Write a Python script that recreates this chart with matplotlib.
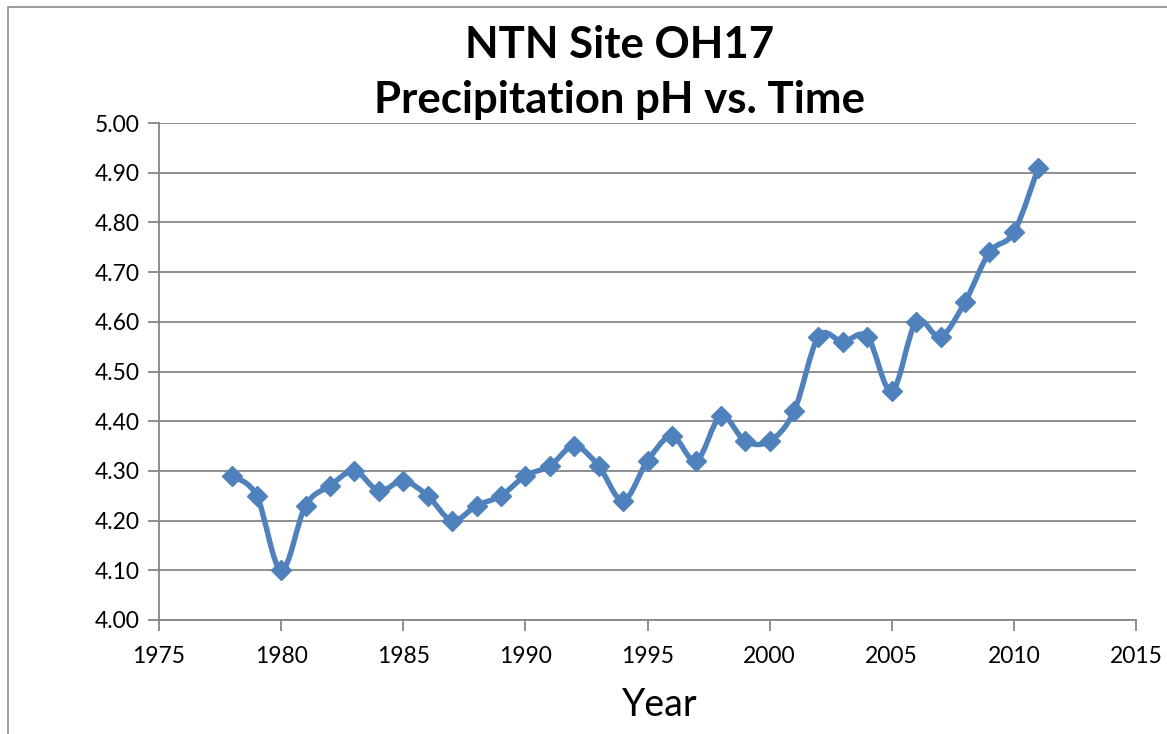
import numpy as np
import matplotlib
matplotlib.use('Agg')
import matplotlib.pyplot as plt
from matplotlib.path import Path
from matplotlib.patches import PathPatch, Rectangle

# data
years = [1978, 1979, 1980, 1981, 1982, 1983, 1984, 1985, 1986, 1987,
         1988, 1989, 1990, 1991, 1992, 1993, 1994, 1995, 1996, 1997,
         1998, 1999, 2000, 2001, 2002, 2003, 2004, 2005, 2006, 2007,
         2008, 2009, 2010, 2011]
ph = [4.29, 4.25, 4.10, 4.23, 4.27, 4.30, 4.26, 4.28, 4.25, 4.20,
      4.23, 4.25, 4.29, 4.31, 4.35, 4.31, 4.24, 4.32, 4.37, 4.32,
      4.41, 4.36, 4.36, 4.42, 4.57, 4.56, 4.57, 4.46, 4.60, 4.57,
      4.64, 4.74, 4.78, 4.91]
x_ticks = [1975, 1980, 1985, 1990, 1995, 2000, 2005, 2010, 2015]
y_ticks = [4.00, 4.10, 4.20, 4.30, 4.40, 4.50, 4.60, 4.70, 4.80, 4.90, 5.00]

blue = '#4F81BD'
grid_col = '#868686'
font = 'Lato'

W, H = 1167, 734
fig = plt.figure(figsize=(W / 100, H / 100), dpi=100)
ax = fig.add_axes([159 / W, 1 - 620 / H, (1136 - 159) / W, (620 - 123) / H])

# outer chart border (cut off on right and bottom)
fig.patches.append(Rectangle((8 / W, -0.1), 1.2, 1 - 7 / H + 0.1, transform=fig.transFigure,
                             fill=False, edgecolor='#8c8c8c', linewidth=1.2))


def smooth_path(xs, ys):
    # excel style smoothed line: catmull-rom as cubic bezier segments
    pts = np.column_stack([xs, ys]).astype(float)
    n = len(pts)
    verts = [pts[0]]
    codes = [Path.MOVETO]
    for i in range(n - 1):
        p0 = pts[i - 1] if i > 0 else pts[i]
        p1 = pts[i]
        p2 = pts[i + 1]
        p3 = pts[i + 2] if i + 2 < n else pts[i + 1]
        c1 = p1 + (p2 - p0) / 6.0
        c2 = p2 - (p3 - p1) / 6.0
        verts += [c1, c2, p2]
        codes += [Path.CURVE4] * 3
    return Path(verts, codes)


ax.add_patch(PathPatch(smooth_path(years, ph), facecolor='none', edgecolor=blue,
                       linewidth=3.9, capstyle='round', joinstyle='round', zorder=3))
ax.plot(years, ph, linestyle='none', marker='D', markersize=10,
        color=blue, zorder=4)

ax.set_xlim(1975, 2015)
ax.set_ylim(4.0, 5.0)
ax.set_xticks(x_ticks)
ax.set_yticks(y_ticks)
ax.set_yticklabels(['%.2f' % v for v in y_ticks])
ax.grid(axis='y', color=grid_col, linewidth=1.3)
ax.set_axisbelow(True)
for s in ['top', 'right']:
    ax.spines[s].set_visible(False)
for s in ['left', 'bottom']:
    ax.spines[s].set_color(grid_col)
    ax.spines[s].set_linewidth(1.3)
ax.tick_params(direction='out', length=8, width=1.3, color=grid_col,
               labelsize=16.5)
ax.tick_params(axis='y', pad=6)
ax.tick_params(axis='x', pad=11)
for lab in ax.get_xticklabels() + ax.get_yticklabels():
    lab.set_fontfamily(font)

fig.text(620 / W, 1 - 45 / H, 'NTN Site OH17', ha='center', va='center',
         fontsize=31.5, fontweight='bold', family=font)
fig.text(620 / W, 1 - 100 / H, 'Precipitation pH vs. Time', ha='center', va='center',
         fontsize=31.5, fontweight='bold', family=font)
fig.text(660 / W, 1 - 705 / H, 'Year', ha='center', va='center',
         fontsize=27, family=font)

fig.savefig('out.png', dpi=100)
